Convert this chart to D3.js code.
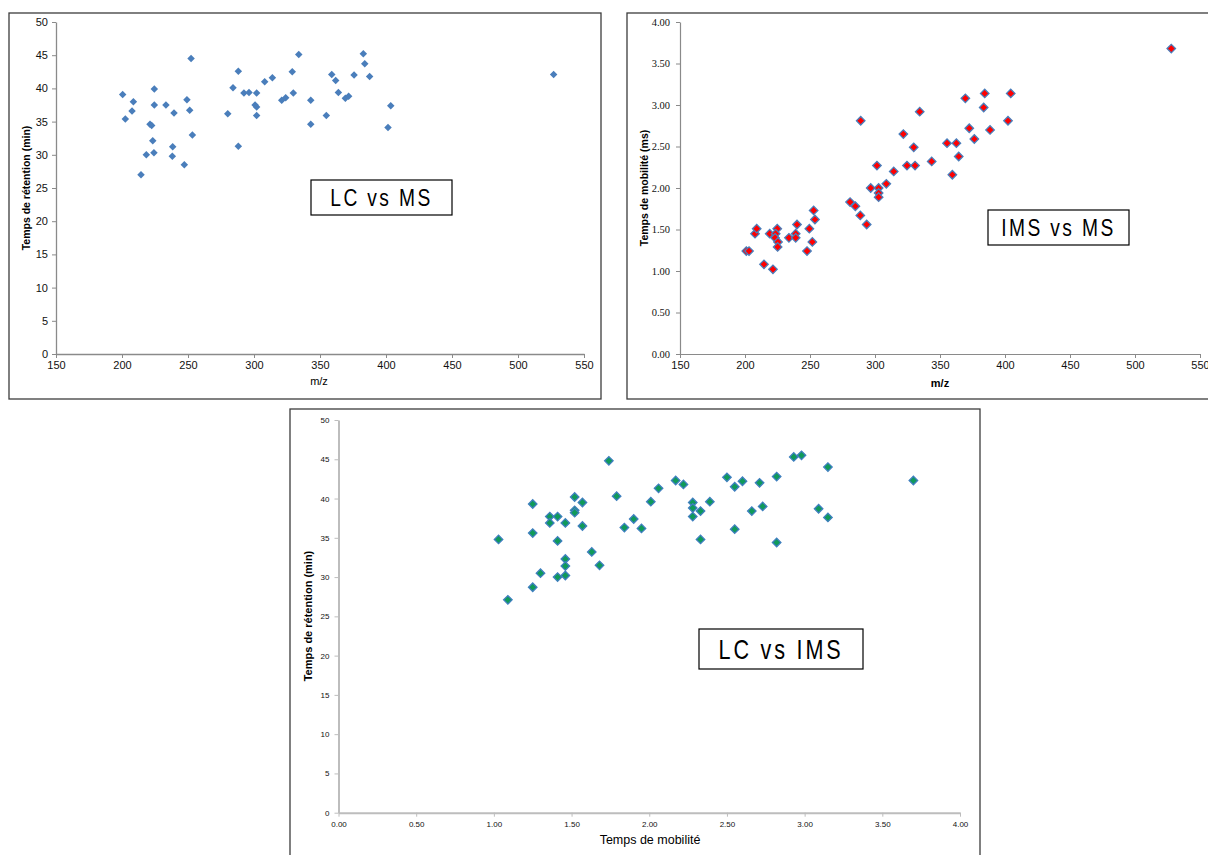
<!DOCTYPE html>
<html>
<head>
<meta charset="utf-8">
<script src="https://cdn.jsdelivr.net/npm/d3@7"></script>
<style>
  html, body { margin: 0; padding: 0; background: #ffffff; }
  svg { display: block; }
</style>
</head>
<body>
<svg id="fig" width="1208" height="855"></svg>
<script>
// LC vs MS : m/z and retention time (min)
const lcMsMz = [200.5, 208.6, 207.6, 202.5, 224.5, 224.5, 233.3, 239.4, 221.2, 222.5,
  223.3, 224.2, 218.4, 214.4, 238.4, 238.1, 247.2, 252.3, 249.2, 251.3,
  253.3, 280.1, 284.1, 288.1, 288.1, 292.4, 296.2, 302.0, 300.8, 302.0,
  302.0, 308.1, 313.9, 329.0, 329.8, 321.0, 324.0, 333.9, 343.0, 343.0,
  354.8, 358.9, 361.9, 363.9, 369.2, 371.7, 375.8, 382.8, 383.9, 387.6,
  403.6, 401.5, 527.0];
const lcMsRt = [39.1, 38.0, 36.6, 35.4, 39.9, 37.5, 37.5, 36.3, 34.6, 34.4,
  32.1, 30.3, 30.0, 27.0, 31.2, 29.8, 28.5, 44.5, 38.3, 36.7,
  33.0, 36.2, 40.1, 42.6, 31.3, 39.3, 39.4, 39.3, 37.5, 37.2,
  35.9, 41.0, 41.6, 42.5, 39.3, 38.2, 38.6, 45.1, 38.2, 34.6,
  35.9, 42.1, 41.2, 39.4, 38.5, 38.8, 42.0, 45.2, 43.7, 41.8,
  37.4, 34.1, 42.1];

// IMS vs MS : m/z and drift time (ms)
const imsMsMz = [201.0, 203.1, 207.7, 209.0, 214.6, 221.5, 219.0, 224.8, 223.6, 223.1,
  225.4, 225.1, 233.8, 239.0, 239.0, 240.0, 247.7, 251.8, 249.5, 253.8,
  252.8, 280.8, 284.9, 288.7, 293.6, 296.7, 302.8, 302.8, 302.8, 301.5,
  308.7, 314.4, 324.6, 330.8, 289.0, 321.8, 334.4, 329.8, 343.6, 355.4,
  362.6, 364.4, 359.5, 369.5, 372.5, 376.4, 384.4, 383.6, 388.5, 404.4,
  402.3, 527.9];
const imsMsDt = [1.24, 1.24, 1.45, 1.51, 1.08, 1.02, 1.45, 1.51, 1.45, 1.40,
  1.35, 1.29, 1.40, 1.45, 1.40, 1.56, 1.24, 1.35, 1.51, 1.62,
  1.73, 1.83, 1.78, 1.67, 1.56, 2.00, 2.00, 1.94, 1.89, 2.27,
  2.05, 2.20, 2.27, 2.27, 2.81, 2.65, 2.92, 2.49, 2.32, 2.54,
  2.54, 2.38, 2.16, 3.08, 2.72, 2.59, 3.14, 2.97, 2.70, 3.14,
  2.81, 3.68];

// LC vs IMS : drift time (ms) and retention time (min)
const lcImsDt = [1.74, 2.17, 2.06, 2.01, 1.79, 1.25, 1.52, 1.57, 1.52, 1.52,
  1.36, 1.41, 1.36, 1.46, 1.57, 1.84, 1.90, 1.95, 1.03, 1.25,
  1.41, 1.63, 1.68, 1.46, 1.46, 1.46, 1.41, 1.30, 1.25, 1.09,
  2.22, 2.28, 2.28, 2.28, 2.33, 2.33, 2.39, 2.50, 2.55, 2.60,
  2.55, 2.66, 2.71, 2.73, 2.82, 2.82, 2.93, 2.98, 3.15, 3.09,
  3.15, 3.70];
const lcImsRt = [44.8, 42.3, 41.3, 39.6, 40.3, 39.3, 40.2, 39.5, 38.5, 38.2,
  37.7, 37.7, 36.9, 36.9, 36.5, 36.3, 37.4, 36.2, 34.8, 35.6,
  34.6, 33.2, 31.5, 32.3, 31.4, 30.2, 30.0, 30.5, 28.7, 27.1,
  41.8, 39.5, 38.8, 37.7, 38.4, 34.8, 39.6, 42.7, 41.5, 42.2,
  36.1, 38.4, 42.0, 39.0, 42.8, 34.4, 45.3, 45.5, 44.0, 38.7,
  37.6, 42.3];

// Tick values
const mzTicks = [150, 200, 250, 300, 350, 400, 450, 500, 550];
const rtTicks = [0, 5, 10, 15, 20, 25, 30, 35, 40, 45, 50];
const dtTicks = [0, 0.5, 1, 1.5, 2, 2.5, 3, 3.5, 4];

const svg = d3.select("#fig");
const SANS = "'Liberation Sans', Arial, sans-serif";
const NARROW = "'Liberation Sans Narrow', 'Liberation Sans', Arial, sans-serif";
const SERIF = "'Liberation Serif', 'Times New Roman', serif";

function diamond(px) {
  // square rotated 45deg; px = width across the diagonal
  const s = px / Math.SQRT2;
  return d3.symbol(d3.symbolSquare, s * s)();
}

function panel(cfg) {
  const g = svg.append("g");
  // outer frame
  g.append("rect")
    .attr("x", cfg.frame[0]).attr("y", cfg.frame[1])
    .attr("width", cfg.frame[2]).attr("height", cfg.frame[3])
    .attr("fill", "#fff").attr("stroke", "#3c3c3c").attr("stroke-width", 1.3);

  const x = d3.scaleLinear().domain(cfg.xDomain).range(cfg.xRange);
  const y = d3.scaleLinear().domain(cfg.yDomain).range(cfg.yRange);

  const xAxis = g.append("g")
    .attr("transform", `translate(0,${cfg.yRange[0]})`)
    .call(d3.axisBottom(x).tickValues(cfg.xTicks).tickFormat(cfg.xFormat)
      .tickSizeInner(4).tickSizeOuter(0).tickPadding(cfg.xPad));
  const yAxis = g.append("g")
    .attr("transform", `translate(${cfg.xRange[0]},0)`)
    .call(d3.axisLeft(y).tickValues(cfg.yTicks).tickFormat(cfg.yFormat)
      .tickSizeInner(4).tickSizeOuter(0).tickPadding(cfg.yPad));

  [xAxis, yAxis].forEach(a => {
    a.select(".domain").attr("stroke", cfg.axisColor).attr("stroke-width", cfg.axisWidth);
    a.selectAll(".tick line").attr("stroke", cfg.axisColor).attr("stroke-width", 1);
  });
  xAxis.selectAll(".tick text")
    .attr("font-family", cfg.xTickFont).attr("font-size", cfg.xTickSize).attr("fill", "#111");
  yAxis.selectAll(".tick text")
    .attr("font-family", cfg.yTickFont).attr("font-size", cfg.yTickSize).attr("fill", "#111");

  // points
  g.append("g").selectAll("path")
    .data(cfg.xs.map((v, i) => [v, cfg.ys[i]]))
    .join("path")
    .attr("d", diamond(cfg.marker))
    .attr("transform", d => `translate(${x(d[0])},${y(d[1])}) rotate(45)`)
    .attr("fill", cfg.fill)
    .attr("stroke", cfg.stroke || "none")
    .attr("stroke-width", cfg.strokeWidth || 0);

  // axis titles
  g.append("text")
    .attr("x", cfg.xTitlePos[0]).attr("y", cfg.xTitlePos[1])
    .attr("text-anchor", "middle")
    .attr("font-family", cfg.xTitleFont).attr("font-size", cfg.xTitleSize)
    .attr("font-weight", cfg.xTitleWeight)
    .text(cfg.xTitle);
  g.append("text")
    .attr("transform", `translate(${cfg.yTitlePos[0]},${cfg.yTitlePos[1]}) rotate(-90)`)
    .attr("text-anchor", "middle")
    .attr("font-family", SANS).attr("font-size", cfg.yTitleSize)
    .attr("font-weight", "bold")
    .text(cfg.yTitle);

  // caption box with condensed lettering
  const b = cfg.box;
  g.append("rect")
    .attr("x", b[0]).attr("y", b[1]).attr("width", b[2]).attr("height", b[3])
    .attr("fill", "#fff").attr("stroke", "#000").attr("stroke-width", 1.2);
  g.append("text")
    .attr("transform", `translate(${b[0] + b[2] / 2},${b[1] + b[3] / 2}) scale(0.8,1)`)
    .attr("dy", "0.36em")
    .attr("text-anchor", "middle")
    .attr("font-family", NARROW).attr("font-size", cfg.boxSize)
    .attr("letter-spacing", cfg.boxSpacing)
    .attr("fill", "#000")
    .text(cfg.boxText);
}

const f0 = d3.format("d");
const f2 = d3.format(".2f");

panel({
  frame: [9, 13, 592, 386],
  xDomain: [150, 550], xRange: [56, 584],
  yDomain: [0, 50], yRange: [354, 22],
  xTicks: mzTicks, yTicks: rtTicks, xFormat: f0, yFormat: f0,
  xPad: 3, yPad: 4, axisColor: "#8a8a8a", axisWidth: 1.3,
  xTickFont: SANS, xTickSize: 11, yTickFont: SANS, yTickSize: 11,
  xs: lcMsMz, ys: lcMsRt, marker: 7.5, fill: "#4a7ebb",
  xTitle: "m/z", xTitlePos: [319, 385], xTitleFont: NARROW, xTitleSize: 11, xTitleWeight: "normal",
  yTitle: "Temps de rétention (min)", yTitlePos: [30, 188], yTitleSize: 10.5,
  box: [311, 180, 141, 35], boxText: "LC vs MS", boxSize: 24, boxSpacing: 3
});

panel({
  frame: [627, 13, 600, 386],
  xDomain: [150, 550], xRange: [680, 1200],
  yDomain: [0, 4], yRange: [354, 22],
  xTicks: mzTicks, yTicks: dtTicks, xFormat: f0, yFormat: f2,
  xPad: 3, yPad: 6, axisColor: "#8a8a8a", axisWidth: 1.2,
  xTickFont: SANS, xTickSize: 11, yTickFont: SERIF, yTickSize: 10.5,
  xs: imsMsMz, ys: imsMsDt, marker: 8.5, fill: "#ff0000", stroke: "#4a7ebb", strokeWidth: 1.3,
  xTitle: "m/z", xTitlePos: [940, 387], xTitleFont: SANS, xTitleSize: 11, xTitleWeight: "bold",
  yTitle: "Temps de mobilité (ms)", yTitlePos: [648, 188], yTitleSize: 10.5,
  box: [988, 210, 141, 35], boxText: "IMS vs MS", boxSize: 24, boxSpacing: 3
});

panel({
  frame: [290, 409, 690, 460],
  xDomain: [0, 4], xRange: [338.5, 960],
  yDomain: [0, 50], yRange: [812.7, 420],
  xTicks: dtTicks, yTicks: rtTicks, xFormat: f2, yFormat: f0,
  xPad: 5, yPad: 5, axisColor: "#bdbdbd", axisWidth: 2,
  xTickFont: SANS, xTickSize: 8, yTickFont: SANS, yTickSize: 8,
  xs: lcImsDt, ys: lcImsRt, marker: 8.5, fill: "#0f9a5a", stroke: "#3f7fbf", strokeWidth: 1.3,
  xTitle: "Temps de mobilité", xTitlePos: [650, 844], xTitleFont: NARROW, xTitleSize: 12.5, xTitleWeight: "normal",
  yTitle: "Temps de rétention (min)", yTitlePos: [312, 616], yTitleSize: 11,
  box: [699, 629, 164, 40], boxText: "LC vs IMS", boxSize: 27, boxSpacing: 3.5
});
</script>
</body>
</html>
